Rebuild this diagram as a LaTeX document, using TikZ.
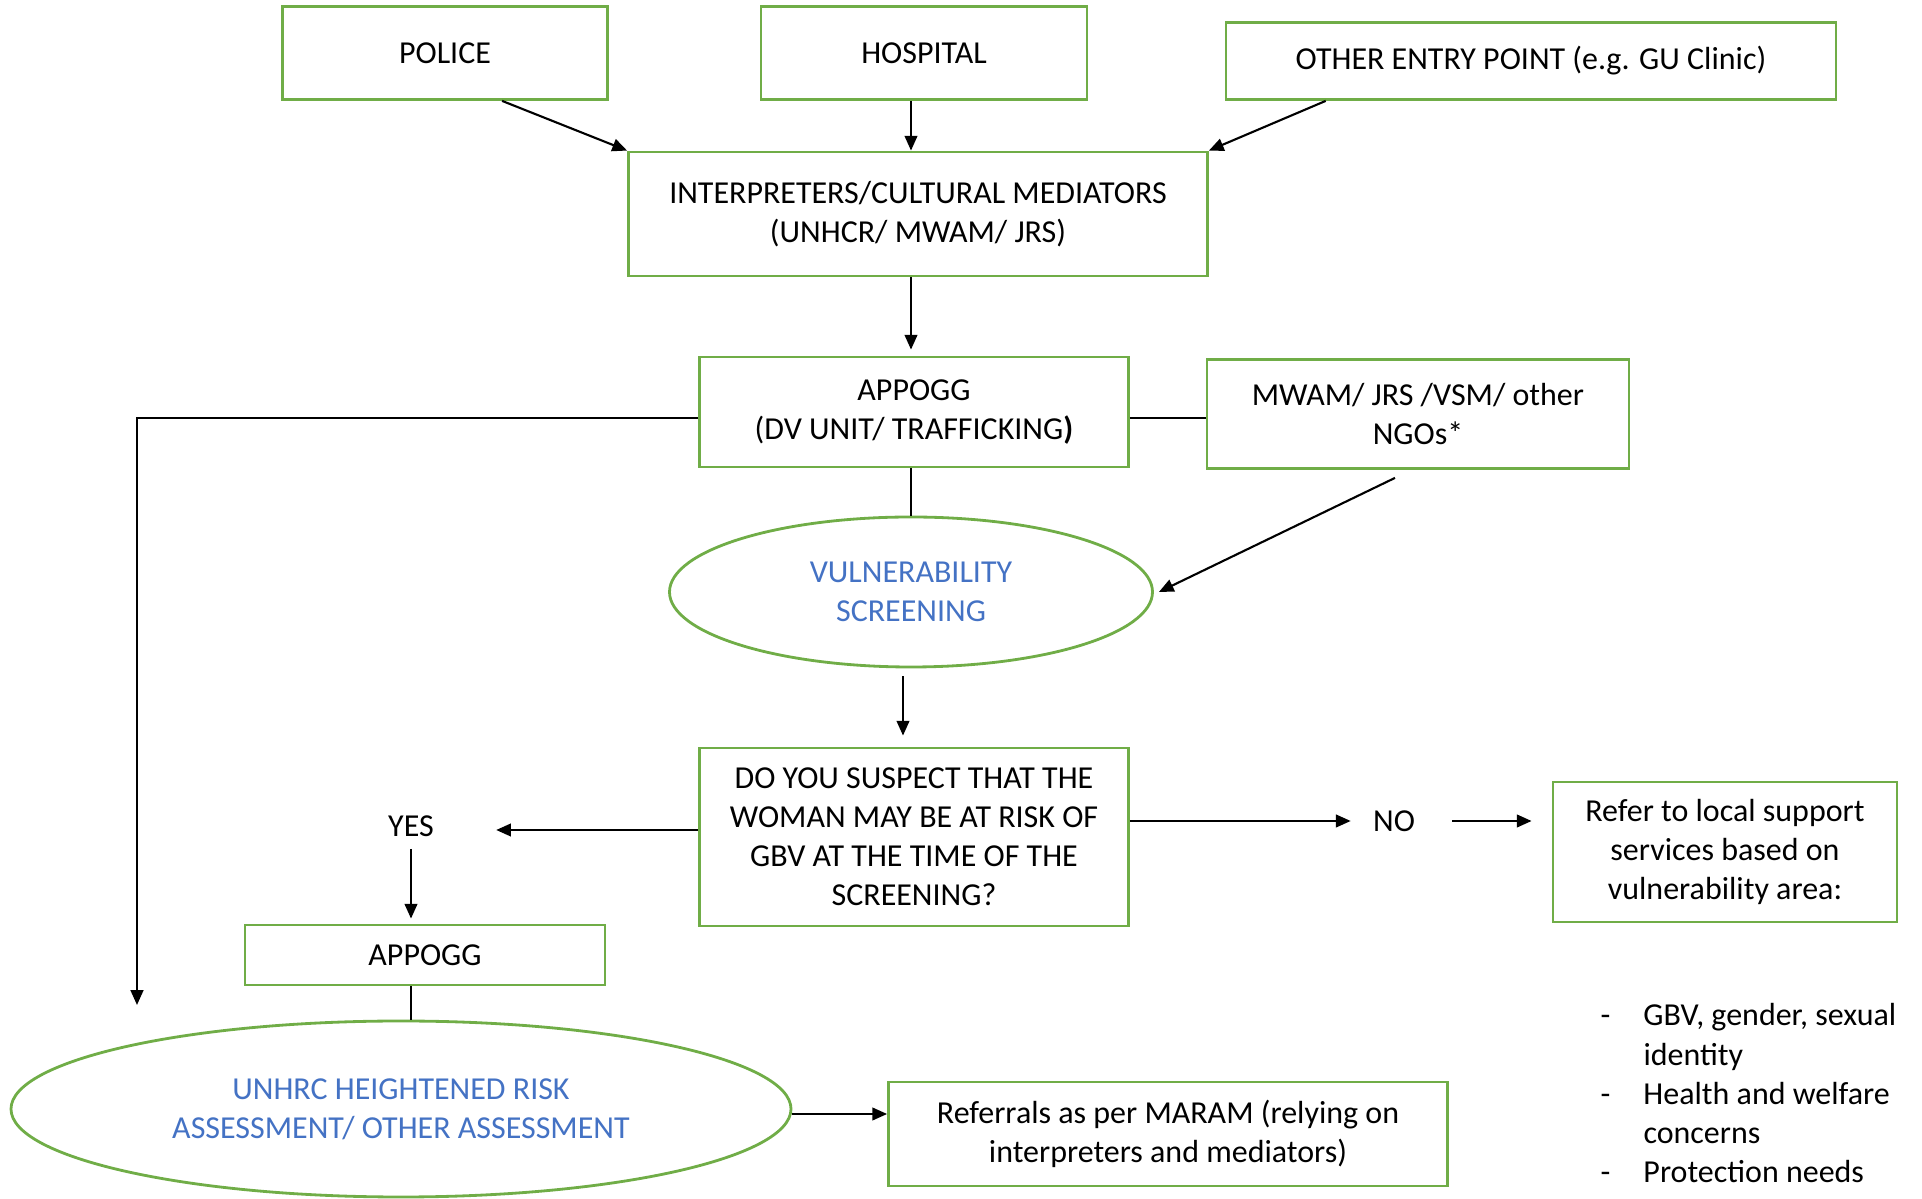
\documentclass[tikz,border=0pt]{standalone}
\usepackage{fontspec}
\setmainfont{Carlito}
\usetikzlibrary{shapes.geometric,arrows.meta}
\definecolor{boxgreen}{RGB}{112,173,71}
\definecolor{textblue}{RGB}{68,114,196}

\begin{document}
\begin{tikzpicture}[
  font=\fontsize{9.1}{11.1}\selectfont,
  box/.style={draw=boxgreen, line width=0.8pt, rectangle, align=center, inner sep=0pt},
  oval/.style={draw=boxgreen, line width=0.8pt, ellipse, align=center, inner sep=0pt, text=textblue},
  arr/.style={line width=0.6pt, -{Triangle[length=4.2pt,width=3.6pt]}},
  plain/.style={line width=0.6pt}
]
\useasboundingbox (0,0) rectangle (19.22,-11.99);

% entry points
\node[box, minimum width=3.25cm, minimum height=0.93cm] (police) at (4.45,-0.53) {POLICE};
\node[box, minimum width=3.26cm, minimum height=0.93cm] (hospital) at (9.24,-0.53) {HOSPITAL};
\node[box, minimum width=6.10cm, minimum height=0.77cm] (otherentry) at (15.31,-0.61) {OTHER ENTRY POINT (e.g. GU Clinic)};

\node[box, minimum width=5.79cm, minimum height=1.24cm] (interp) at (9.18,-2.14) {INTERPRETERS/CULTURAL MEDIATORS\\ (UNHCR/ MWAM/ JRS)};

\draw[arr] (police.-40) to (interp.north west);
\draw[arr] ([xshift=-0.07cm]interp.north |- hospital.south) to ([xshift=-0.07cm]interp.north);
\draw[arr] (otherentry.191) to (interp.north east);

% appogg and ngos
\node[box, minimum width=4.29cm, minimum height=1.10cm] (appogg) at (9.14,-4.12) {APPOGG\\ (DV UNIT/ TRAFFICKING\textbf{)}};
\node[box, minimum width=4.22cm, minimum height=1.09cm] (ngos) at (14.18,-4.14) {MWAM/ JRS /VSM/ other\\ NGOs*};
\draw[arr] ([xshift=-0.03cm]appogg.north |- interp.south) to ([xshift=-0.03cm,yshift=0.06cm]appogg.north);
\draw[plain] ([yshift=-0.06cm]appogg.east) to ([yshift=-0.06cm]appogg.east -| ngos.west);

\node[oval, minimum width=4.83cm, minimum height=1.50cm] (screening) at (9.11,-5.92) {VULNERABILITY\\ SCREENING};
\draw[plain] (screening.north |- appogg.south) to (screening.north);
\draw[arr] ([xshift=-0.23cm,yshift=-0.08cm]ngos.south) to ([xshift=0.05cm]screening.east);

\coordinate (leftend) at (1.37,-10.05);
\draw[arr] ([yshift=-0.06cm]appogg.west) -| (leftend);

% question
\node[box, minimum width=4.29cm, minimum height=1.78cm] (suspect) at (9.14,-8.37) {DO YOU SUSPECT THAT THE\\ WOMAN MAY BE AT RISK OF\\ GBV AT THE TIME OF THE\\ SCREENING?};
\draw[arr] ([xshift=-0.08cm,yshift=-0.08cm]screening.south) to ([xshift=-0.08cm,yshift=0.11cm]screening.south |- suspect.north);

\node (yes) at (4.11,-8.26) {YES};
\node (no) at (13.94,-8.21) {NO};
\node[box, minimum width=3.44cm, minimum height=1.40cm] (refer) at (17.25,-8.52) {Refer to local support\\ services based on\\ vulnerability area:};

\draw[arr] ([yshift=0.07cm]suspect.west) to ([xshift=0.5cm,yshift=0.07cm]yes.east |- suspect.west);
\draw[arr] (suspect.east |- no) to ([xshift=-0.1cm]no.west);
\draw[arr] ([xshift=0.25cm]no.east) to ([xshift=-0.2cm]refer.west |- no);

\node[box, minimum width=3.60cm, minimum height=0.60cm] (appoggb) at (4.25,-9.55) {APPOGG};
\draw[arr] (yes.south) to ([yshift=0.05cm]yes.south |- appoggb.north);

\node[oval, minimum width=7.80cm, minimum height=1.76cm] (unhrc) at (4.01,-11.09) {UNHRC HEIGHTENED RISK\\ ASSESSMENT/ OTHER ASSESSMENT};
\draw[plain] (yes.south |- appoggb.south) to (yes.south |- unhrc.north);

\node[box, minimum width=5.59cm, minimum height=1.04cm] (referrals) at (11.68,-11.34) {Referrals as per MARAM (relying on\\ interpreters and mediators)};
\draw[arr] ([yshift=-0.05cm]unhrc.east) to ([yshift=-0.05cm]unhrc.east -| referrals.west);

% vulnerability areas
\node[anchor=base west, inner sep=0pt] (areas) at (16.00,-10.26) {%
\begin{tabular}[t]{@{}l@{\hspace{0.33cm}}l@{}}
- & GBV, gender, sexual\\
  & identity\\
- & Health and welfare\\
  & concerns\\
- & Protection needs
\end{tabular}};

\end{tikzpicture}
\end{document}
